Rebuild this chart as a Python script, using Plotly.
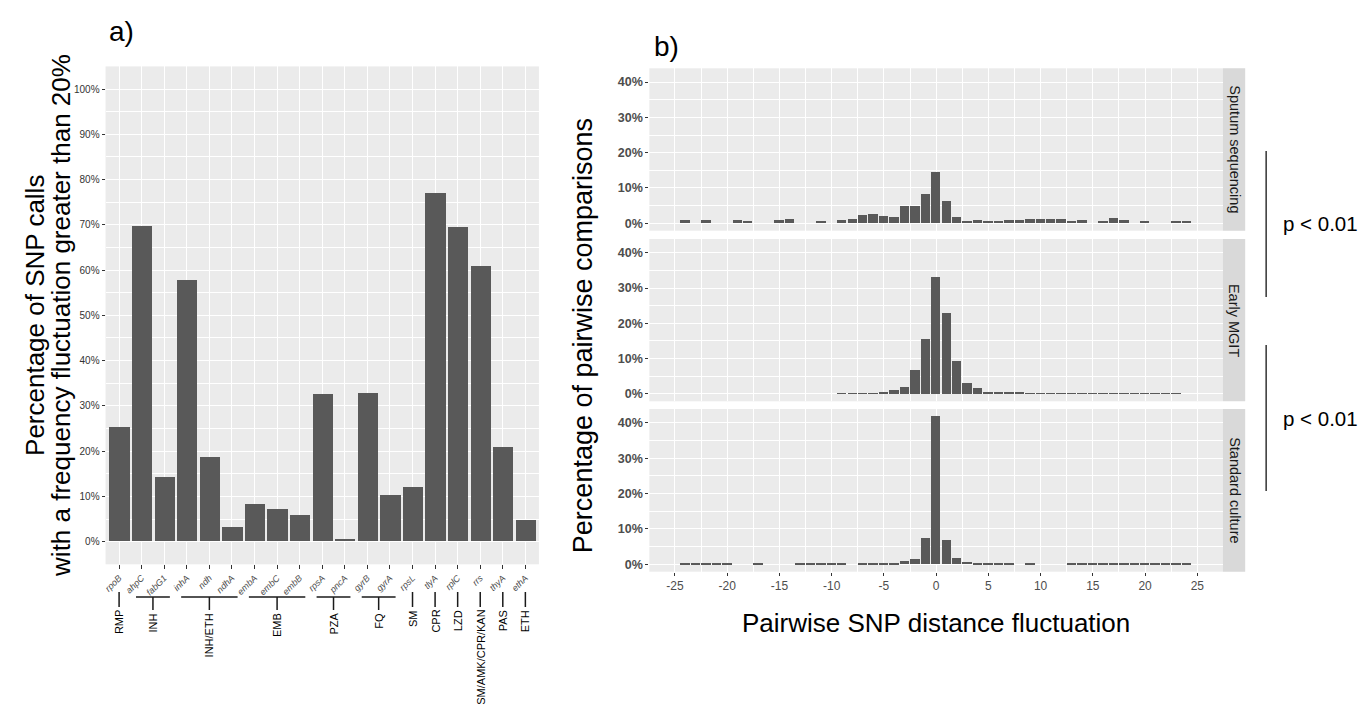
import plotly.graph_objects as go

# ---------------- data ----------------
genes = ["rpoB", "ahpC", "fabG1", "inhA", "ndh", "ndhA", "embA", "embC", "embB",
         "rpsA", "pncA", "gyrB", "gyrA", "rpsL", "tlyA", "rplC", "rrs", "thyA", "ethA"]
pct_fluct = [25.3, 69.7, 14.3, 57.8, 18.7, 3.2, 8.3, 7.2, 5.9,
             32.6, 0.6, 32.8, 10.3, 12.1, 77.0, 69.5, 60.9, 20.9, 4.6]
drug_groups = ["RMP", "INH", "INH/ETH", "EMB", "PZA", "FQ", "SM", "CPR", "LZD",
               "SM/AMK/CPR/KAN", "PAS", "ETH"]
group_sizes = [1, 2, 3, 3, 2, 2, 1, 1, 1, 1, 1, 1]
left_y_ticks = [0, 10, 20, 30, 40, 50, 60, 70, 80, 90, 100]

snp_diff = list(range(-24, 25))
sputum = [0.75, 0, 0.75, 0, 0, 0.75, 0.4, 0, 0, 0.75,
          1.2, 0, 0, 0.4, 0, 0.75, 1.2, 2.4, 2.6, 2.1,
          1.8, 4.9, 4.9, 8.3, 14.5, 6.3, 1.8, 0.4, 0.95, 0.4,
          0.4, 0.75, 0.75, 1.05, 1.05, 1.05, 1.05, 0.4, 0.75, 0,
          0.4, 1.3, 0.75, 0, 0.4, 0, 0, 0.4, 0.4]
early_mgit = [0] * 15 + [0.25, 0.25, 0.25, 0.25,
              0.4, 1.0, 1.9, 6.8, 15.5, 33.2, 23.0, 9.2, 3.2, 1.6, 0.4, 0.6, 0.4, 0.4] \
             + [0.25] * 15 + [0]
standard = [0.25, 0.25, 0.25, 0.25, 0.25, 0, 0, 0.25, 0, 0, 0,
            0.25, 0.25, 0.25, 0.25, 0.25, 0, 0.25, 0.25, 0.25, 0.25,
            0.85, 1.4, 7.4, 41.8, 7.0, 1.7, 0.6,
            0.25, 0.25, 0.25, 0.25, 0, 0.25, 0, 0, 0] + [0.25] * 12
facet_labels = ["Sputum sequencing", "Early MGIT", "Standard culture"]
right_x_ticks = [-25, -20, -15, -10, -5, 0, 5, 10, 15, 20, 25]
right_y_ticks = [0, 10, 20, 30, 40]
p_labels = ["p < 0.01", "p < 0.01"]

# ---------------- style ----------------
W, H = 1371, 717
BAR = "#595959"
PANEL = "#ebebeb"
TICKTXT = "#4d4d4d"
FONT = "Liberation Sans, Arial, Helvetica, sans-serif"


def fx(p):
    return p / W


def fy(p):
    return 1 - p / H


fig = go.Figure()

# left bar chart
fig.add_trace(go.Bar(x=genes, y=pct_fluct, width=0.9, marker=dict(color=BAR, line=dict(width=0)),
                     xaxis="x", yaxis="y", hoverinfo="skip", showlegend=False))

# right faceted histograms
facet_data = [sputum, early_mgit, standard]
for k, vals in enumerate(facet_data):
    n = k + 2
    fig.add_trace(go.Bar(x=snp_diff, y=vals, width=0.9, marker=dict(color=BAR, line=dict(width=0)),
                         xaxis=f"x{n}", yaxis=f"y{n}", hoverinfo="skip", showlegend=False))

grid = dict(showgrid=True, gridcolor="white", gridwidth=1.4, zeroline=False, showline=False)

layout = dict(
    width=W, height=H, margin=dict(l=0, r=0, t=0, b=0),
    paper_bgcolor="white", plot_bgcolor=PANEL,
    font=dict(family=FONT, color="black"),
    bargap=0, showlegend=False,
)

layout["xaxis"] = dict(domain=[fx(103.7), fx(537.7)], range=[-0.6, 18.6], type="category",
                       anchor="y", tickangle=-45, ticks="outside", ticklen=4, tickcolor="#333333",
                       tickfont=dict(size=9, style="italic", color=TICKTXT), **grid)
layout["yaxis"] = dict(domain=[fy(564.3), fy(66.4)], range=[-5, 105], anchor="x",
                       tickvals=left_y_ticks, ticktext=[f"{v}%" for v in left_y_ticks],
                       ticks="outside", ticklen=3, tickcolor="#333333",
                       tickfont=dict(size=10, color="#333333"),
                       minor=dict(dtick=5, tick0=0, showgrid=True, gridcolor="white", gridwidth=0.7),
                       **grid)

panel_tops = [68.3, 239.0, 409.0]
panel_bots = [230.7, 401.3, 571.7]
for k in range(3):
    n = k + 2
    xa = dict(domain=[fx(648.3), fx(1222.7)], range=[-27.45, 27.45], anchor=f"y{n}",
              tickvals=right_x_ticks, ticktext=[str(v) for v in right_x_ticks],
              minor=dict(dtick=2.5, tick0=0, showgrid=True, gridcolor="white", gridwidth=0.7),
              **grid)
    if n < 4:
        xa.update(matches="x4", showticklabels=False, ticks="")
    else:
        xa.update(ticks="outside", ticklen=3, tickcolor="#333333",
                  tickfont=dict(size=12, color=TICKTXT))
    layout[f"xaxis{n}"] = xa
    layout[f"yaxis{n}"] = dict(domain=[fy(panel_bots[k]), fy(panel_tops[k])], range=[-2.1, 43.9],
                               anchor=f"x{n}", tickvals=right_y_ticks,
                               ticktext=[f"{v}%" for v in right_y_ticks],
                               ticks="outside", ticklen=3, tickcolor="#333333",
                               tickfont=dict(size=12.5, color=TICKTXT, weight="bold"),
                               minor=dict(dtick=5, tick0=0, showgrid=True, gridcolor="white",
                                          gridwidth=0.7),
                               **grid)

fig.update_layout(**layout)

annotations = []
shapes = []


def note(text, x, y, size, angle=0, xanchor="center", yanchor="middle", color="black"):
    annotations.append(dict(text=text, x=fx(x), y=fy(y), xref="paper", yref="paper",
                            xanchor=xanchor, yanchor=yanchor, textangle=angle, showarrow=False,
                            font=dict(size=size, color=color)))


# panel tags
note("a)", 120, 31, 28)
note("b)", 665, 46, 28)

# left y title (two lines)
note("Percentage of SNP calls", 33, 315, 26, angle=-90)
note("with a frequency fluctuation greater than 20%", 59, 315, 26, angle=-90)

# right titles
note("Percentage of pairwise comparisons", 582, 336, 27, angle=-90)
note("Pairwise SNP distance fluctuation", 935, 623, 26)

# facet strips
for k, lab in enumerate(facet_labels):
    shapes.append(dict(type="rect", xref="paper", yref="paper", x0=fx(1222.7), x1=fx(1245),
                       y0=fy(panel_bots[k]), y1=fy(panel_tops[k]), fillcolor="#d9d9d9",
                       line=dict(width=0), layer="below"))
    note(lab, 1234, (panel_tops[k] + panel_bots[k]) / 2, 14.5, angle=90, color="#1a1a1a")

# p-value brackets
p_spans = [(151, 297), (345, 491)]
for (a, b), lab in zip(p_spans, p_labels):
    shapes.append(dict(type="line", xref="paper", yref="paper", x0=fx(1266), x1=fx(1266),
                       y0=fy(a), y1=fy(b), line=dict(color="#333333", width=1.5)))
    note(lab, 1281, (a + b) / 2, 20.5, xanchor="left")

# drug group brackets under the left chart
start = 0
for g, n in zip(drug_groups, group_sizes):
    s, e = start, start + n - 1
    c = (s + e) / 2
    if n == 1:
        shapes.append(dict(type="line", xref="x", yref="paper", x0=c, x1=c, y0=fy(592), y1=fy(607),
                           line=dict(color="#1a1a1a", width=1.5)))
        top = 608
    else:
        shapes.append(dict(type="line", xref="x", yref="paper", x0=s - 0.25, x1=e + 0.25,
                           y0=fy(597), y1=fy(597), line=dict(color="#1a1a1a", width=1.5)))
        shapes.append(dict(type="line", xref="x", yref="paper", x0=c, x1=c, y0=fy(597), y1=fy(610),
                           line=dict(color="#1a1a1a", width=1.5)))
        top = 611
    annotations.append(dict(text=g, x=c, xref="x", y=fy(top), yref="paper", xanchor="center",
                            yanchor="top", textangle=-90, showarrow=False,
                            font=dict(size=11, color="black")))
    start += n

fig.update_layout(annotations=annotations, shapes=shapes)

fig.write_html("out.html", config={"displayModeBar": False},
               post_script="document.body.style.margin='0';")
